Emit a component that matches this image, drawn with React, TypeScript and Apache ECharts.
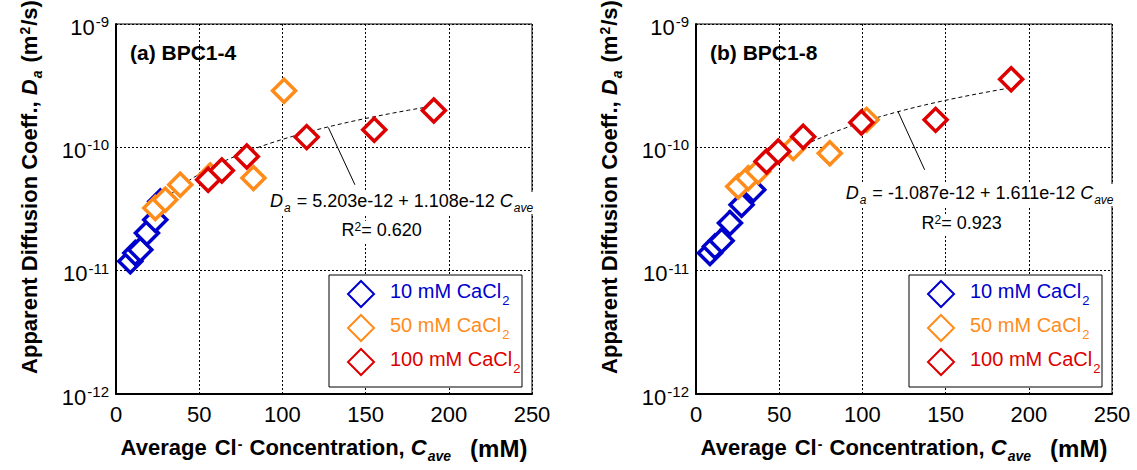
import React, { useEffect, useRef } from "react";
import * as echarts from "echarts";

const FONT = "Liberation Sans, Arial, Helvetica, sans-serif";

// ---------- data ----------
const xTicks = [0, 50, 100, 150, 200, 250];
const yMin = 1e-12;
const yMax = 1e-9;

const seriesNames = ["10 mM CaCl2", "50 mM CaCl2", "100 mM CaCl2"];
const seriesColors = ["#0000cc", "#ff8c1a", "#dd0000"];

// Panel (a) BPC1-4
const a10x = [8.6, 11.6, 14.6, 18.6, 23.6, 26.6];
const a10y = [1.19e-11, 1.39e-11, 1.48e-11, 2.02e-11, 2.59e-11, 3.64e-11];
const a50x = [23.6, 29.6, 38.6, 56.6, 82.6, 101];
const a50y = [3.22e-11, 3.76e-11, 4.97e-11, 5.9e-11, 5.63e-11, 2.88e-10];
const a100x = [55.4, 63.6, 78.6, 114.6, 155.2, 191];
const a100y = [5.45e-11, 6.49e-11, 8.43e-11, 1.21e-10, 1.39e-10, 1.99e-10];

// Panel (b) BPC1-8
const b10x = [8.4, 11.4, 15.4, 20.4, 27.4, 34.4];
const b10y = [1.39e-11, 1.57e-11, 1.75e-11, 2.43e-11, 3.42e-11, 4.53e-11];
const b50x = [25.4, 31.4, 37.4, 58.4, 80.4, 102.5];
const b50y = [4.82e-11, 5.63e-11, 6.37e-11, 9.86e-11, 8.97e-11, 1.67e-10];
const b100x = [42.4, 49.4, 64.4, 99.4, 144, 189.4];
const b100y = [7.67e-11, 9.25e-11, 1.22e-10, 1.59e-10, 1.67e-10, 3.57e-10];

// Linear fits stated on the chart: Da = intercept + slope * Cave
const fitAIntercept = 5.203e-12;
const fitASlope = 1.108e-12;
const fitARange = [8.6, 191];
const fitBIntercept = -1.087e-12;
const fitBSlope = 1.611e-12;
const fitBRange = [8.4, 189.4];

// Arrow annotations (data coordinates): tail -> head
const arrowA = [[143.6, 4.97e-11], [127.6, 1.45e-10]];
const arrowB = [[137.4, 6.58e-11], [121.4, 1.95e-10]];

const panelTitles = ["(a) BPC1-4", "(b) BPC1-8"];
const eqA = ["5.203e-12", "1.108e-12", "0.620"];
const eqB = ["-1.087e-12", "1.611e-12", "0.923"];

// ---------- helpers ----------
const zip = (xs: number[], ys: number[]) => xs.map((x, i) => [x, ys[i]]);
const fitCurve = (a: number, b: number, r: number[]) => {
  const pts: number[][] = [];
  const n = 60;
  for (let k = 0; k <= n; k++) {
    const c = r[0] + ((r[1] - r[0]) * k) / n;
    pts.push([c, a + b * c]);
  }
  return pts;
};

const grids = [
  { left: 116, top: 24, width: 416, height: 370 },
  { left: 696, top: 24, width: 416, height: 370 },
];

const eqRich = {
  n: { fontFamily: FONT, fontSize: 18, lineHeight: 22, verticalAlign: "top", color: "#000" },
  i: { fontFamily: FONT, fontSize: 18, fontStyle: "italic", lineHeight: 22, verticalAlign: "top", color: "#000" },
  sub: { fontFamily: FONT, fontSize: 12, fontStyle: "italic", lineHeight: 12, verticalAlign: "bottom", padding: [16, 1, 0, 1], color: "#000" },
  sup: { fontFamily: FONT, fontSize: 12, lineHeight: 12, verticalAlign: "top", color: "#000" },
};

const tBase = { fontFamily: FONT, fontSize: 22, fontWeight: "bold", lineHeight: 26, verticalAlign: "top", color: "#000" };
const titleRich = {
  n: { ...tBase },
  g2: { ...tBase, padding: [0, 0, 0, 2] },
  p0: { ...tBase, fontSize: 24, padding: [0, 0, 0, 17] },
  i: { ...tBase, fontStyle: "italic" },
  sub: { fontFamily: FONT, fontSize: 14, fontWeight: "bold", fontStyle: "italic", lineHeight: 14, verticalAlign: "bottom", padding: [19, 2, 0, 1], color: "#000" },
  sup: { fontFamily: FONT, fontSize: 14, fontWeight: "bold", lineHeight: 14, verticalAlign: "top", padding: [0, 1, 0, 1], color: "#000" },
};

const legendRich: any = {};
seriesColors.forEach((c, i) => {
  legendRich["b" + i] = { fontFamily: FONT, fontSize: 20, color: c, lineHeight: 26, verticalAlign: "top", padding: [0, 0, 0, 11] };
  legendRich["s" + i] = { fontFamily: FONT, fontSize: 13, color: c, lineHeight: 13, verticalAlign: "bottom", padding: [16, 0, 0, 1] };
});

const App: React.FC = () => {
  const ref = useRef<HTMLDivElement>(null);

  useEffect(() => {
    if (!ref.current) return;
    const chart = echarts.init(ref.current, null, { renderer: "svg" });

    const xAxes = grids.map((_, p) => ({
      type: "value",
      gridIndex: p,
      min: xTicks[0],
      max: xTicks[xTicks.length - 1],
      interval: xTicks[1] - xTicks[0],
      axisLine: { show: true, onZero: false, lineStyle: { color: "#000", width: 2 } },
      axisTick: { show: false },
      axisLabel: { fontFamily: FONT, fontSize: 22, color: "#000", margin: 9 },
      splitLine: { show: true, lineStyle: { color: "#000", width: 1, type: [2, 2] } },
      name: "{n|Average}{g2| Cl}{sup|-}{n| Concentration, }{i|C}{sub|ave}{p0|(mM)}",
      nameLocation: "middle",
      nameGap: 35,
      nameTextStyle: { rich: titleRich },
    }));

    const yAxes = grids.map((_, p) => ({
      type: "log",
      logBase: 10,
      gridIndex: p,
      min: yMin,
      max: yMax,
      axisLine: { show: true, lineStyle: { color: "#000", width: 2 } },
      axisTick: { show: false },
      minorTick: { show: false },
      axisLabel: {
        margin: 7,
        formatter: (v: number) => `{b|10}{s|${Math.round(Math.log10(v))}}`,
        rich: {
          b: { fontFamily: FONT, fontSize: 22, color: "#000", lineHeight: 28, verticalAlign: "bottom" },
          s: { fontFamily: FONT, fontSize: 15, color: "#000", lineHeight: 15, verticalAlign: "top", padding: [4, 0, 0, 1] },
        },
      },
      splitLine: { show: true, lineStyle: { color: "#000", width: 1, type: [2, 2] } },
    }));

    const panels = [
      { d: [zip(a10x, a10y), zip(a50x, a50y), zip(a100x, a100y)], fit: fitCurve(fitAIntercept, fitASlope, fitARange), arrow: arrowA },
      { d: [zip(b10x, b10y), zip(b50x, b50y), zip(b100x, b100y)], fit: fitCurve(fitBIntercept, fitBSlope, fitBRange), arrow: arrowB },
    ];

    const series: any[] = [];
    panels.forEach((pn, p) => {
      series.push({
        type: "line",
        name: "fit" + p,
        xAxisIndex: p,
        yAxisIndex: p,
        data: pn.fit,
        showSymbol: false,
        symbol: "none",
        silent: true,
        z: 1,
        lineStyle: { color: "#000", width: 1, type: [4, 3] },
        markLine: {
          silent: true,
          symbol: ["none", "arrow"],
          symbolSize: [0, 10],
          label: { show: false },
          lineStyle: { color: "#000", width: 1, type: "solid" },
          data: [[{ coord: pn.arrow[0] }, { coord: pn.arrow[1] }]],
        },
      });
      pn.d.forEach((dd, i) => {
        series.push({
          type: "scatter",
          name: seriesNames[i],
          xAxisIndex: p,
          yAxisIndex: p,
          data: dd,
          symbol: "diamond",
          symbolSize: 23,
          z: 3 + i,
          itemStyle: { color: "#fff", borderColor: seriesColors[i], borderWidth: 3.5, opacity: 1 },
        });
      });
    });

    const legendFmt = (name: string) => {
      const i = seriesNames.indexOf(name);
      return `{b${i}|${name.slice(0, -1)}}{s${i}|${name.slice(-1)}}`;
    };

    const legends = [347, 927].map((left) => ({
      left,
      top: 278,
      orient: "vertical",
      padding: 0,
      itemGap: 4,
      itemWidth: 26,
      itemHeight: 26,
      icon: "diamond",
      selectedMode: false,
      z: 6,
      data: seriesNames,
      formatter: legendFmt,
      textStyle: { rich: legendRich },
    }));

    const graphic: any[] = [];
    [329, 909].forEach((x) => {
      graphic.push({
        type: "rect",
        z: 5,
        shape: { x, y: 275, width: 193, height: 112 },
        style: { fill: "#fff", stroke: "#000", lineWidth: 1 },
      });
    });
    [
      { x: 130, t: panelTitles[0] },
      { x: 710, t: panelTitles[1] },
    ].forEach((o) => {
      graphic.push({
        type: "text",
        x: o.x,
        y: 52,
        z: 6,
        style: { text: o.t, fontFamily: FONT, fontSize: 21, fontWeight: "bold", fill: "#000", verticalAlign: "middle" },
      });
    });
    [
      { x: 270, y: 203, e: eqA, rx: 381.7, ry: 231.7 },
      { x: 845.7, y: 195, e: eqB, rx: 961.7, ry: 225 },
    ].forEach((o) => {
      graphic.push({
        type: "text",
        x: o.x,
        y: o.y,
        z: 6,
        style: {
          text: `{i|D}{sub|a}{n| = ${o.e[0]} + ${o.e[1]} }{i|C}{sub|ave}`,
          rich: eqRich,
          verticalAlign: "middle",
          backgroundColor: "#fff",
        },
      });
      graphic.push({
        type: "text",
        x: o.rx,
        y: o.ry,
        z: 6,
        style: {
          text: `{n|R}{sup|2}{n|= ${o.e[2]}}`,
          rich: eqRich,
          align: "center",
          verticalAlign: "middle",
          backgroundColor: "#fff",
        },
      });
    });
    [31, 611].forEach((x) => {
      graphic.push({
        type: "text",
        x,
        y: 187,
        rotation: Math.PI / 2,
        z: 6,
        style: {
          text: "{n|Apparent Diffusion Coeff., }{i|D}{sub|a}{n| (m}{sup|2}{n|/s)}",
          rich: titleRich,
          align: "center",
          verticalAlign: "middle",
        },
      });
    });

    chart.setOption({
      animation: false,
      backgroundColor: "#fff",
      textStyle: { fontFamily: FONT },
      grid: grids.map((g) => ({ ...g, show: true, borderColor: "#000", borderWidth: 1, backgroundColor: "transparent" })),
      xAxis: xAxes,
      yAxis: yAxes,
      legend: legends,
      series,
      graphic,
    });

    return () => chart.dispose();
  }, []);

  return (
    <div
      ref={ref}
      style={{ position: "fixed", left: 0, top: 0, width: 1137, height: 470, background: "#fff" }}
    />
  );
};

export default App;
